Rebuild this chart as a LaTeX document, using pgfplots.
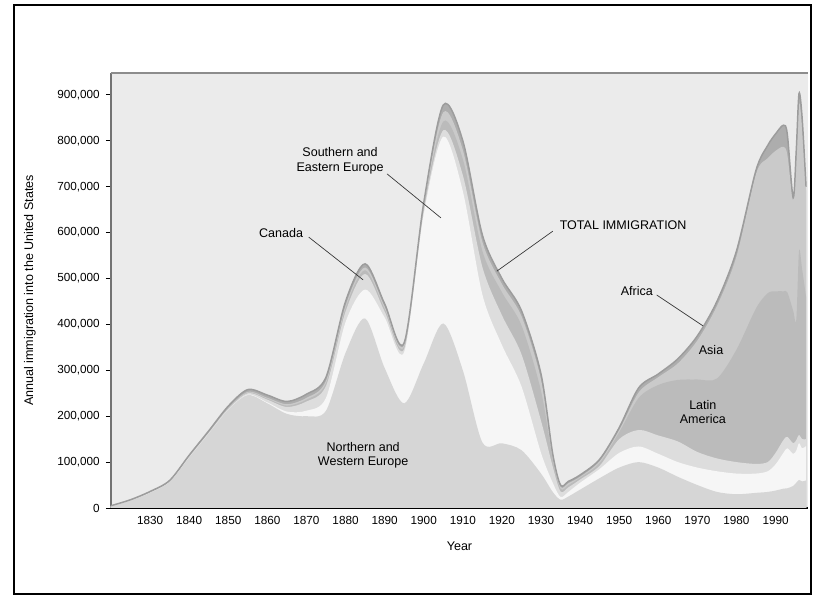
\documentclass[border=0pt]{standalone}
\usepackage{pgfplots}
\pgfplotsset{compat=1.18}
\usepackage{pgfplotstable}
\usepackage{fontspec}
\setmainfont{Liberation Sans}

\definecolor{panel}{HTML}{EBEBEB}
\definecolor{cNw}{HTML}{D6D6D6}
\definecolor{cSe}{HTML}{F6F6F6}
\definecolor{cCa}{HTML}{DDDDDD}
\definecolor{cLa}{HTML}{BBBBBB}
\definecolor{cAs}{HTML}{CACACA}
\definecolor{cAf}{HTML}{ADADAD}
\definecolor{cLine}{HTML}{9C9C9C}

% cumulative tops of the stacked layers (persons per year)
\pgfplotstableread{
year    nw      se      ca      la      as      tot
1820    4000    4000    4000    4000    4000    5000
1825    16000   16000   17000   17000   17000   18000
1830    33000   33000   34000   34000   34000   36000
1835    57000   57000   58000   58000   58000   60000
1840    110000  110000  112000  112000  112000  115000
1845    162000  162000  164000  164000  165000  168000
1850    214000  214000  216000  217000  218000  222000
1855    246000  247000  250000  251000  253000  258000
1860    228000  230000  236000  238000  240000  246000
1865    205000  210000  220000  223000  226000  232000
1870    200000  212000  232000  236000  240000  248000
1875    212000  240000  266000  272000  277000  285000
1880    338000  405000  428000  436000  441000  450000
1885    413000  476000  510000  518000  524000  532000
1890    305000  415000  428000  434000  439000  445000
1895    228000  340000  347000  352000  356000  360000
1900    315000  640000  648000  655000  660000  665000
1905    402000  809000  823000  842000  862000  878000
1910    300000  690000  725000  760000  780000  800000
1915    143000  465000  525000  560000  580000  595000
1920    141000  355000  420000  470000  488000  500000
1925    126000  265000  335000  398000  418000  430000
1930    75000   120000  190000  255000  280000  292000
1933    35000   55000   90000   105000  112000  118000
1935    18000   24000   36000   42000   46000   50000
1937    25000   35000   45000   50000   54000   58000
1940    40000   55000   62000   66000   68000   72000
1945    65000   85000   92000   98000   102000  106000
1950    88000   120000  150000  165000  170000  175000
1955    100000  134000  170000  240000  252000  262000
1960    88000   118000  158000  268000  285000  292000
1965    68000   100000  145000  279000  315000  325000
1970    50000   88000   122000  280000  365000  375000
1975    35000   80000   108000  282000  440000  450000
1980    30000   75000   100000  345000  548000  560000
1985    33000   75000   96000   435000  728000  736000
1988    35000   80000   100000  468000  762000  790000
1990    38000   95000   120000  472000  778000  815000
1992    42000   120000  148000  472000  787000  834000
1993    43000   130000  155000  470000  770000  815000
1994.5  48000   118000  141000  430000  672000  676000
1995.3  55000   125000  148000  410000  760000  780000
1996    61000   141000  159000  560000  880000  903000
1996.8  58000   130000  150000  520000  830000  850000
1997.8  60000   135000  150000  460000  690000  700000
}\imm

\begin{document}
\begin{tikzpicture}
\begin{axis}[
  scale only axis,
  width=522.75pt, height=326.25pt,
  xmin=1820, xmax=1998.3,
  ymin=0, ymax=947700,
  axis x line*=bottom, axis y line*=left,
  axis background/.style={fill=panel},
  x axis line style={black, line width=0.9pt},
  y axis line style={black!55, line width=0.9pt},
  xtick={1830,1840,...,1990},
  ytick={0,100000,...,900000},
  xtick align=inside, ytick align=outside,
  major tick length=3.75pt,
  tick style={black, line width=0.6pt},
  scaled y ticks=false,
  /pgf/number format/assume math mode=true,
  xticklabel style={font=\fontsize{8.8}{10}\selectfont, /pgf/number format/1000 sep=, yshift=-2.5pt},
  yticklabel style={font=\fontsize{8.8}{10}\selectfont, /pgf/number format/fixed, /pgf/number format/1000 sep={,}, xshift=-1.2pt},
  xlabel={Year},
  ylabel={Annual immigration into the United States},
  label style={font=\fontsize{9.4}{11}\selectfont},
  xlabel style={at={(axis description cs:0.5,-0.0874)}, anchor=center},
  ylabel style={at={(axis description cs:-0.1162,0.5)}, anchor=center},
  every axis plot/.append style={smooth, tension=0.5},
]
\addplot[fill=cAf, draw=none] table[x=year, y=tot] {\imm} \closedcycle;
\addplot[fill=cAs, draw=none] table[x=year, y=as] {\imm} \closedcycle;
\addplot[fill=cLa, draw=none] table[x=year, y=la] {\imm} \closedcycle;
\addplot[fill=cCa, draw=none] table[x=year, y=ca] {\imm} \closedcycle;
\addplot[fill=cSe, draw=none] table[x=year, y=se] {\imm} \closedcycle;
\addplot[fill=cNw, draw=none] table[x=year, y=nw] {\imm} \closedcycle;
\addplot[draw=cLine, line width=1.1pt] table[x=year, y=tot] {\imm};

\draw[black!45, line width=0.8pt] (rel axis cs:0,1) -- (rel axis cs:1,1);

\begin{scope}[font=\fontsize{9.4}{11}\selectfont]
\node[align=center] at (axis cs:1878.6,756000) {Southern and\\Eastern Europe};
\draw[black!80, line width=0.5pt] (axis cs:1890.6,728000) -- (axis cs:1904.4,632000);
\node at (axis cs:1863.5,599000) {Canada};
\draw[black!80, line width=0.5pt] (axis cs:1870.6,590000) -- (axis cs:1884.5,497000);
\node[anchor=west] at (axis cs:1933.6,617000) {TOTAL IMMIGRATION};
\draw[black!80, line width=0.5pt] (axis cs:1933.0,603000) -- (axis cs:1918.7,516000);
\node at (axis cs:1954.5,473000) {Africa};
\draw[black!80, line width=0.5pt] (axis cs:1959.6,464000) -- (axis cs:1971.4,397000);
\node at (axis cs:1973.5,344000) {Asia};
\node[align=center] at (axis cs:1971.4,209000) {Latin\\America};
\node[align=center] at (axis cs:1884.5,115000) {Northern and\\Western Europe};
\end{scope}

\coordinate (ll) at (rel axis cs:0,0);
\end{axis}
\draw[line width=1.5pt] ([shift={(-72.75pt,-64.5pt)}]ll) rectangle ([shift={(525pt,377.25pt)}]ll);
\path ([shift={(-83.25pt,-67.5pt)}]ll) rectangle ([shift={(527.25pt,381pt)}]ll);
\end{tikzpicture}
\end{document}
